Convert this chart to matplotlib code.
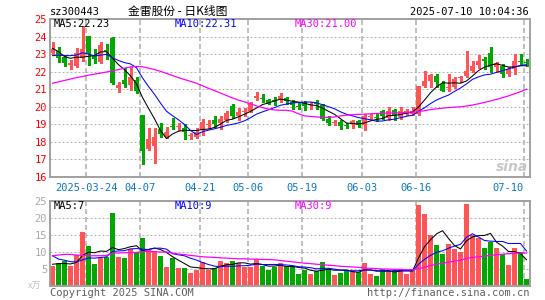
import numpy as np
import pandas as pd
import matplotlib
matplotlib.use('Agg')
from matplotlib import pyplot as plt

plt.rcParams['font.family'] = ['DejaVu Sans Mono', 'Noto Sans CJK SC']

W, H = 545, 300
RED = '#ff5555'
GREEN = '#00a800'
GRID = '#b4b4b4'
FRAME = '#a0a0a0'
DATE_BLUE = '#0a78c8'

# daily candles, index 0 = 2025-03-14 ... index 79 = 2025-07-10
opens = [23.05, 23.15, 22.82, 22.40, 22.32, 22.77, 24.02, 22.95, 22.57, 23.25,
         23.94, 21.05, 21.53, 21.24, 21.50, 19.55, 17.60, 17.77, 18.72, 18.26,
         18.86, 18.86, 18.80, 18.32, 18.28, 18.66, 18.98, 19.23, 19.08, 19.23,
         20.02, 19.50, 19.72, 19.75, 20.52, 20.47, 20.40, 20.38, 20.45, 20.51,
         20.30, 20.00, 20.20, 20.10, 20.18, 20.08, 19.32, 19.10, 19.13, 18.96,
         19.00, 19.19, 18.94, 19.43, 19.40, 19.75, 19.38, 19.79, 19.42, 19.68,
         19.57, 19.57, 21.20, 21.49, 21.77, 21.30, 21.05, 21.11, 21.66, 21.77,
         22.06, 22.40, 22.72, 23.09, 22.28, 22.34, 21.87, 22.15, 22.60, 22.55]
highs = [23.70, 23.40, 22.90, 22.67, 23.33, 24.60, 24.05, 23.27, 23.70, 23.60,
         24.00, 21.43, 22.20, 22.28, 21.70, 19.55, 18.78, 18.78, 19.06, 18.83,
         19.35, 19.05, 19.00, 18.50, 18.79, 19.32, 19.23, 19.45, 19.50, 19.75,
         20.17, 19.94, 19.94, 20.26, 20.83, 20.74, 20.45, 20.57, 20.77, 20.58,
         20.36, 20.26, 20.32, 20.26, 20.36, 20.17, 19.45, 19.26, 19.23, 19.08,
         19.26, 19.26, 19.57, 19.60, 19.57, 19.79, 19.98, 19.89, 19.98, 19.89,
         19.98, 21.20, 22.02, 21.87, 21.87, 21.45, 21.87, 21.72, 21.77, 23.15,
         22.58, 22.96, 22.81, 23.38, 22.53, 22.43, 22.25, 23.00, 23.00, 22.72]
lows = [22.95, 22.55, 22.30, 22.15, 22.25, 22.60, 22.38, 22.48, 22.52, 22.70,
        21.30, 20.86, 21.15, 20.96, 20.77, 16.75, 17.55, 16.80, 18.30, 18.20,
        18.72, 18.65, 18.19, 18.19, 18.23, 18.38, 18.81, 18.85, 18.75, 19.13,
        19.38, 19.23, 19.50, 19.70, 20.36, 20.26, 20.13, 20.08, 20.26, 20.13,
        19.90, 19.89, 19.80, 19.90, 19.90, 19.23, 18.94, 18.94, 18.75, 18.80,
        18.81, 18.85, 18.70, 19.26, 19.19, 19.32, 19.23, 19.23, 19.32, 19.51,
        19.51, 19.51, 21.10, 21.11, 21.11, 20.89, 20.92, 21.08, 21.40, 21.72,
        22.00, 22.20, 22.15, 21.96, 22.00, 21.72, 21.77, 21.87, 22.40, 22.34]
closes = [23.30, 22.80, 22.48, 22.48, 23.08, 23.28, 23.05, 22.70, 23.50, 23.20,
          21.37, 21.22, 21.28, 21.72, 20.92, 17.50, 18.15, 18.26, 18.45, 18.58,
          18.82, 18.92, 18.57, 18.36, 18.57, 19.13, 19.02, 19.04, 19.32, 19.64,
          19.45, 19.70, 19.77, 20.13, 20.60, 20.43, 20.17, 20.34, 20.64, 20.32,
          20.08, 19.96, 20.02, 20.15, 20.15, 19.32, 19.08, 19.15, 18.90, 18.92,
          19.19, 18.94, 19.45, 19.47, 19.36, 19.45, 19.75, 19.51, 19.75, 19.72,
          19.75, 21.20, 21.49, 21.83, 21.40, 20.92, 21.10, 21.58, 21.70, 22.06,
          22.34, 22.62, 22.58, 22.25, 22.47, 21.87, 22.15, 22.62, 22.56, 22.50]
# volume, 万手
volumes = [5.8, 6.8, 7.3, 5.8, 9.0, 15.9, 11.7, 6.5, 8.3, 8.5,
           21.6, 8.5, 8.2, 11.0, 9.9, 14.2, 10.5, 10.2, 8.8, 5.5,
           8.2, 5.2, 5.3, 3.8, 4.6, 7.0, 4.6, 5.4, 7.5, 6.7,
           7.5, 6.9, 5.5, 5.5, 7.8, 5.8, 4.6, 5.6, 6.8, 5.8,
           5.8, 3.4, 4.6, 3.6, 4.4, 7.1, 5.0, 3.1, 3.8, 4.6,
           4.6, 4.1, 6.8, 3.4, 2.9, 4.9, 4.8, 4.6, 4.8, 3.4,
           4.6, 23.8, 21.2, 15.0, 12.0, 9.4, 12.3, 10.8, 10.0, 24.1,
           15.0, 14.2, 11.1, 13.0, 11.1, 9.4, 6.1, 11.1, 10.0, 2.0]
# sessions before the window (only feed the moving averages)
prev_closes = [22.50, 22.70, 22.55, 22.70, 22.00, 23.75, 23.88, 22.98, 22.74]
prev_volumes = [16.8, 10.5, 10.0, 9.8, 9.9, 6.0, 7.0, 6.5, 6.7]
# 30 day averages
ma30_price = [21.34, 21.42, 21.50, 21.58, 21.66, 21.73, 21.80, 21.86, 21.92, 21.98,
              22.05, 22.12, 22.20, 22.27, 22.30, 22.28, 22.20, 22.12, 22.02, 21.90,
              21.78, 21.66, 21.55, 21.45, 21.34, 21.20, 21.05, 20.92, 20.78, 20.64,
              20.50, 20.38, 20.28, 20.17, 20.05, 19.95, 19.87, 19.82, 19.80, 19.80,
              19.75, 19.60, 19.48, 19.45, 19.42, 19.40, 19.40, 19.42, 19.48, 19.52,
              19.55, 19.57, 19.58, 19.60, 19.62, 19.63, 19.64, 19.65, 19.66, 19.68,
              19.70, 19.72, 19.78, 19.84, 19.88, 19.92, 19.95, 19.98, 20.00, 20.04,
              20.10, 20.17, 20.25, 20.33, 20.42, 20.52, 20.62, 20.74, 20.86, 21.00]
ma30_vol = [8.9, 9.1, 9.3, 9.3, 9.1, 9.0, 8.9, 8.9, 8.9, 9.0,
            9.7, 9.7, 9.8, 9.8, 9.9, 10.1, 10.2, 10.1, 10.0, 10.0,
            9.7, 9.4, 9.2, 9.0, 8.8, 8.6, 8.5, 8.4, 8.3, 8.2,
            8.1, 8.0, 8.0, 7.9, 7.9, 7.8, 7.8, 7.7, 7.5, 7.3,
            7.1, 6.9, 6.7, 6.6, 6.4, 6.3, 6.1, 6.0, 5.8, 5.7,
            5.6, 5.5, 5.3, 5.2, 5.1, 5.0, 5.0, 4.9, 4.9, 4.8,
            4.8, 5.1, 5.5, 6.0, 6.4, 6.7, 7.0, 7.3, 7.6, 8.1,
            8.4, 8.6, 8.8, 9.0, 9.2, 9.35, 9.5, 9.6, 9.7, 9.7]

date_idx = [6, 15, 25, 33, 42, 52, 61, 79]
date_labels = ['2025-03-24', '04-07', '04-21', '05-06', '05-19', '06-03', '06-16', '07-10']


def rolling(prev, vals, n):
    s = pd.Series(prev + vals).rolling(n).mean()
    return s.iloc[len(prev):].to_numpy()


def ftext(x, y, s, **kw):
    # x, y in pixels from the top-left corner
    fig.text(x / W, 1 - y / H, s, **kw)


def style_axes(ax):
    ax.set_xlim(0, 80)
    ax.set_axisbelow(True)
    for sp in ax.spines.values():
        sp.set_color(FRAME)
        sp.set_linewidth(1.4)
    ax.set_xticks(date_idx)
    ax.xaxis.grid(True, color=GRID, linestyle=(0, (3, 1.8)), linewidth=1.2)
    ax.yaxis.grid(True, color=GRID, linestyle=(0, (2, 2)), linewidth=0.72)


x = np.arange(len(closes))
o = np.array(opens)
c = np.array(closes)
cols = np.where(c >= o, RED, GREEN)
mid = x + 2.5 / 6

fig = plt.figure(figsize=(W / 100, H / 100), dpi=100)
ax1 = fig.add_axes([50 / W, 1 - 177 / H, 480 / W, 158 / H])
ax2 = fig.add_axes([50 / W, 1 - 286 / H, 480 / W, 85 / H])

# price panel
style_axes(ax1)
ax1.set_ylim(16, 25)
ax1.set_yticks(range(16, 26))
ax1.tick_params(axis='y', length=0, labelcolor='red', labelsize=7.5, pad=2)
ax1.set_xticklabels(date_labels)
ax1.tick_params(axis='x', length=0, labelcolor=DATE_BLUE, labelsize=7.5, pad=4)
# last date label sits left of its line so it stays inside the frame
last = ax1.get_xticklabels()[-1]
last.set_horizontalalignment('right')
last.set_x(last.get_position()[0] - 0.2)

ax1.vlines(mid, lows, highs, colors=cols, linewidth=0.75, antialiased=False)
ax1.bar(x, np.maximum(np.abs(c - o), 0.06), bottom=np.minimum(o, c), width=5 / 6,
        align='edge', color=cols, linewidth=0, antialiased=False)
ax1.plot(mid, rolling(prev_closes, closes, 5), color='black', lw=0.75)
ax1.plot(mid, rolling(prev_closes, closes, 10), color='blue', lw=0.75)
ax1.plot(mid, ma30_price, color='magenta', lw=0.9)

# volume panel
style_axes(ax2)
ax2.set_ylim(0, 25)
ax2.set_yticks([5, 10, 15, 20, 25])
ax2.set_xticklabels([])
ax2.tick_params(axis='y', length=0, labelcolor='#a8a8a8', labelsize=7.5, pad=2)
ax2.tick_params(axis='x', length=0)
ax2.bar(x, volumes, width=5 / 6, align='edge', color=cols, linewidth=0, antialiased=False)
ax2.plot(mid, rolling(prev_volumes, volumes, 5), color='black', lw=0.75)
ax2.plot(mid, rolling(prev_volumes, volumes, 10), color='blue', lw=0.75)
ax2.plot(mid, ma30_vol, color='magenta', lw=0.9)

# header and legends
ftext(50, 15, 'sz300443', fontsize=7.5)
ftext(178, 15, '金雷股份 - 日K线图', fontsize=8.5, ha='center',
      family=['Noto Sans CJK SC', 'DejaVu Sans'])
ftext(529, 15, '2025-07-10 10:04:36', fontsize=7.5, ha='right')
ftext(54, 27, 'MA5:22.23', fontsize=7.5)
ftext(175, 27, 'MA10:22.31', fontsize=7.5, color='blue')
ftext(295, 27, 'MA30:21.00', fontsize=7.5, color='magenta')
ftext(54, 209, 'MA5:7', fontsize=7.5)
ftext(175, 209, 'MA10:9', fontsize=7.5, color='blue')
ftext(295, 209, 'MA30:9', fontsize=7.5, color='magenta')

ftext(28, 289, 'x万', fontsize=6.5, color='#c0c0c0', style='italic',
      family=['Noto Sans CJK SC', 'DejaVu Sans'])
ftext(50, 296, 'Copyright 2025 SINA.COM', fontsize=7.5, color='#606060')
ftext(529, 296, 'http://finance.sina.com.cn', fontsize=7.5, color='#606060', ha='right')
ftext(528, 171, 'sina', fontsize=10, color='#c8c8c8', ha='right',
      style='italic', weight='bold', family='DejaVu Sans')

fig.savefig('out.png', dpi=100)
